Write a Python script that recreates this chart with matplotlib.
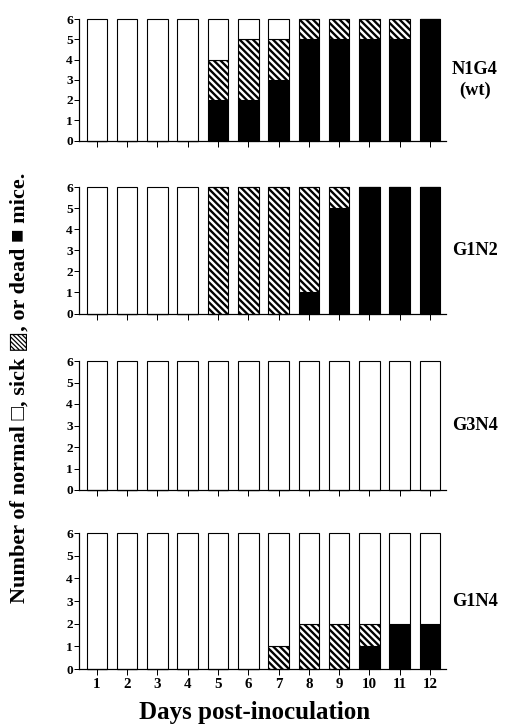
import numpy as np
import matplotlib
matplotlib.use("Agg")
import matplotlib.pyplot as plt

plt.rcParams['font.family'] = ['Liberation Serif', 'DejaVu Sans']
plt.rcParams['font.weight'] = 'bold'
plt.rcParams['hatch.linewidth'] = 2.1

days = np.arange(1, 13)
strains = ["N1G4\n(wt)", "G1N2", "G3N4", "G1N4"]
total = 6

dead_n1g4 = np.array([0, 0, 0, 0, 2, 2, 3, 5, 5, 5, 5, 6])
sick_n1g4 = np.array([0, 0, 0, 0, 2, 3, 2, 1, 1, 1, 1, 0])
dead_g1n2 = np.array([0, 0, 0, 0, 0, 0, 0, 1, 5, 6, 6, 6])
sick_g1n2 = np.array([0, 0, 0, 0, 6, 6, 6, 5, 1, 0, 0, 0])
dead_g3n4 = np.array([0, 0, 0, 0, 0, 0, 0, 0, 0, 0, 0, 0])
sick_g3n4 = np.array([0, 0, 0, 0, 0, 0, 0, 0, 0, 0, 0, 0])
dead_g1n4 = np.array([0, 0, 0, 0, 0, 0, 0, 0, 0, 1, 2, 2])
sick_g1n4 = np.array([0, 0, 0, 0, 0, 0, 1, 2, 2, 1, 0, 0])

dead_all = [dead_n1g4, dead_g1n2, dead_g3n4, dead_g1n4]
sick_all = [sick_n1g4, sick_g1n2, sick_g3n4, sick_g1n4]

W, H, DPI = 508, 724, 80
fig = plt.figure(figsize=(W / DPI, H / DPI), dpi=DPI)

# panel top/bottom in pixels (scan is slightly stretched toward the bottom)
panel_px = [(19, 140.5), (187, 313.5), (361, 490), (533, 669)]
x0, x1 = 79, 446
sick_hatch = chr(92) * 4  # backslashes -> dense diagonal stripes

for i, (top, bot) in enumerate(panel_px):
    ax = fig.add_axes([x0 / W, 1 - bot / H, (x1 - x0) / W, (bot - top) / H])
    dead = dead_all[i]
    sick = sick_all[i]
    normal = total - dead - sick
    kw = dict(width=0.68, edgecolor='black', linewidth=1.0, clip_on=False)
    ax.bar(days, dead, color='black', **kw)
    ax.bar(days, sick, bottom=dead, color='white', hatch=sick_hatch, **kw)
    ax.bar(days, normal, bottom=dead + sick, color='white', **kw)

    ax.set_xlim(0.41, 12.53)
    ax.set_ylim(0, 6)
    ax.set_yticks(range(0, 7))
    ax.set_xticks(days)
    for s in ['top', 'right']:
        ax.spines[s].set_visible(False)
    for s in ['left', 'bottom']:
        ax.spines[s].set_linewidth(1.1)
    ax.tick_params(axis='y', direction='out', length=4.5, width=0.9,
                   labelsize=12, pad=1)
    ax.tick_params(axis='x', direction='out', length=5.4, width=0.9,
                   labelsize=13.5, pad=3)
    if i < 3:
        ax.set_xticklabels([])
    fig.text(475 / W, 1 - (top + bot) / 2 / H, strains[i], ha='center',
             va='center', fontsize=16.5, fontweight='bold', linespacing=1.25)

fig.text(255 / W, 1 - 713 / H, "Days post-inoculation", ha='center',
         va='center', fontsize=22.5, fontweight='bold')
fig.text(20 / W, 1 - 388 / H, "Number of normal \u25a1, sick \u25a8, or dead \u25a0 mice.",
         ha='center', va='center', rotation=90, fontsize=20, fontweight='bold')

fig.savefig("out.png", dpi=DPI)
